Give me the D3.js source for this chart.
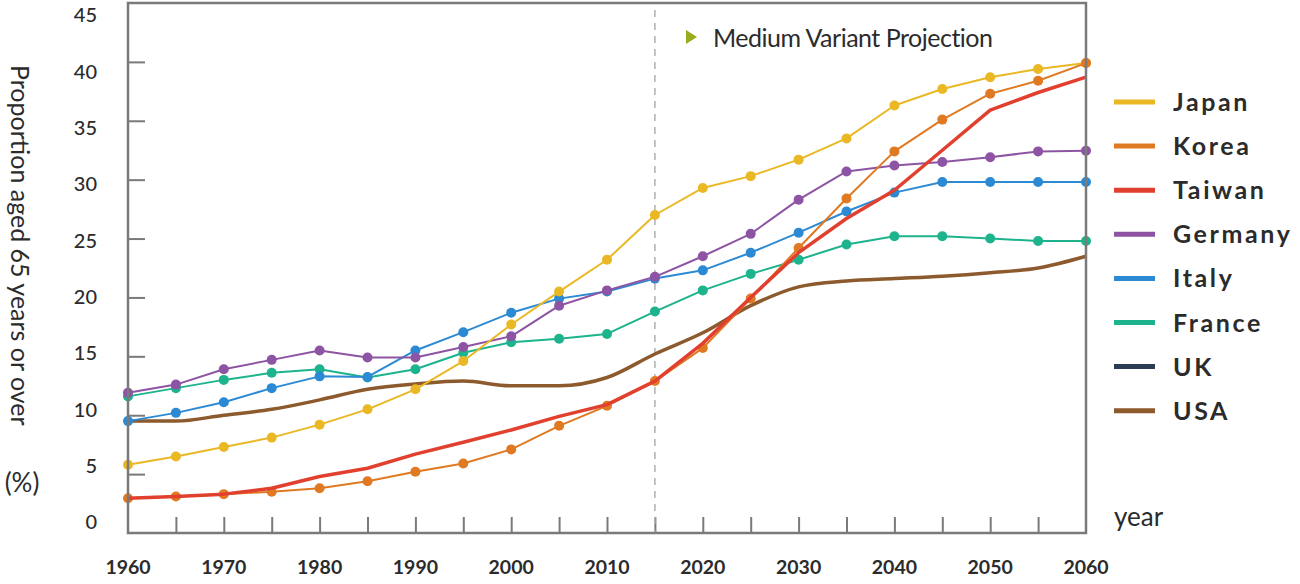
<!DOCTYPE html>
<html>
<head>
<meta charset="utf-8">
<script src="https://cdn.jsdelivr.net/npm/d3@7"></script>
<style>
  body { margin: 0; background: #fff; }
  text { font-family: Lato, "Noto Sans", sans-serif; fill: #2b2b2b; }
</style>
</head>
<body>
<div id="chart"></div>
<script>
(function() {
    var width = 1300, height = 584;

    // data, one value per 5 years 1960-2060
    var years = d3.range(1960, 2061, 5);
    var japan   = [5.8, 6.5, 7.3, 8.1, 9.2, 10.5, 12.2, 14.6, 17.7, 20.5, 23.2, 27.0, 29.3, 30.3, 31.7, 33.5, 36.3, 37.7, 38.7, 39.4, 39.9];
    var korea   = [2.95, 3.1, 3.3, 3.5, 3.8, 4.4, 5.2, 5.9, 7.1, 9.1, 10.8, 12.9, 15.7, 19.9, 24.2, 28.4, 32.4, 35.1, 37.3, 38.4, 39.9];
    var taiwan  = [2.95, 3.1, 3.3, 3.8, 4.8, 5.5, 6.7, 7.7, 8.75, 9.9, 10.9, 12.9, 16.1, 20.0, 23.8, 26.7, 29.1, 32.5, 35.9, 37.4, 38.7];
    var germany = [11.9, 12.6, 13.9, 14.7, 15.5, 14.9, 14.9, 15.8, 16.7, 19.3, 20.6, 21.75, 23.5, 25.4, 28.3, 30.7, 31.2, 31.5, 31.9, 32.4, 32.45];
    var italy   = [9.5, 10.2, 11.1, 12.3, 13.3, 13.25, 15.5, 17.05, 18.7, 19.9, 20.5, 21.6, 22.3, 23.8, 25.5, 27.3, 28.9, 29.8, 29.8, 29.8, 29.8];
    var france  = [11.6, 12.3, 13.0, 13.6, 13.9, 13.2, 13.9, 15.3, 16.2, 16.5, 16.9, 18.8, 20.6, 22.0, 23.2, 24.5, 25.2, 25.2, 25.0, 24.8, 24.8];
    var usa     = [9.5, 9.5, 10.0, 10.5, 11.3, 12.2, 12.65, 12.9, 12.5, 12.5, 13.2, 15.2, 17.0, 19.3, 20.9, 21.4, 21.6, 21.8, 22.1, 22.5, 23.5];

    var countries = ["Japan", "Korea", "Taiwan", "Germany", "Italy", "France", "UK", "USA"];
    var colors = ["#e9b824", "#e07a22", "#e2402f", "#8e54a4", "#2b8ad3", "#1db38d", "#2b3c55", "#8c5a2d"];
    var values = [japan, korea, taiwan, germany, italy, france, null, usa];
    var dotted = [true, true, false, true, true, true, false, false];

    var yTicks = d3.range(0, 46, 5);
    var xLabels = d3.range(1960, 2061, 10);
    var projectionYear = 2015;

    var svg = d3.select('#chart').append('svg')
        .attr('width', width)
        .attr('height', height);

    var x = d3.scaleLinear().domain([1960, 2060]).range([128, 1086]);
    var y = d3.scaleLinear().domain([0, 45]).range([533, 3]);
    // the tick labels sit on their own slightly tighter spacing
    var yLab = d3.scaleLinear().domain([0, 45]).range([522, 15]);

    // inner ticks
    svg.append('g')
        .attr('transform', 'translate(0,533)')
        .call(d3.axisBottom(x).tickValues(years.slice(1, -1)).tickSizeInner(-16).tickSizeOuter(0).tickFormat(''))
        .call(function(g) { g.select('.domain').remove(); })
        .selectAll('line').attr('stroke', '#7a7a7a').attr('stroke-width', 2);

    svg.append('g')
        .attr('transform', 'translate(128,0)')
        .call(d3.axisLeft(y).tickValues(yTicks.slice(1, -1)).tickSizeInner(-17).tickSizeOuter(0).tickFormat(''))
        .call(function(g) { g.select('.domain').remove(); })
        .selectAll('line').attr('stroke', '#7a7a7a').attr('stroke-width', 2);

    // labels
    svg.append('g')
        .selectAll('text')
        .data(yTicks)
        .enter().append('text')
        .attr('x', 97)
        .attr('y', function(d) { return yLab(d); })
        .attr('dy', '0.36em')
        .attr('text-anchor', 'end')
        .style('font-size', '20px')
        .style('font-weight', 500)
        .text(function(d) { return d; });

    svg.append('g')
        .selectAll('text')
        .data(xLabels)
        .enter().append('text')
        .attr('x', function(d) { return x(d); })
        .attr('y', 567)
        .attr('dy', '0.36em')
        .attr('text-anchor', 'middle')
        .style('font-size', '19.5px')
        .style('font-weight', 700)
        .text(function(d) { return d; });

    // projection line
    svg.append('line')
        .attr('x1', x(projectionYear)).attr('x2', x(projectionYear))
        .attr('y1', 10).attr('y2', 533)
        .attr('stroke', '#b0b0b0')
        .attr('stroke-width', 1.5)
        .attr('stroke-dasharray', '7,6');

    svg.append('path')
        .attr('d', 'M686,30 L697,37 L686,44 Z')
        .attr('fill', '#9aab1e');
    svg.append('text')
        .attr('x', 713).attr('y', 38)
        .attr('dy', '0.36em')
        .style('font-size', '25px')
        .style('letter-spacing', '-0.5px')
        .text('Medium Variant Projection');

    // series
    var line = d3.line()
        .x(function(d, i) { return x(years[i]); })
        .y(function(d) { return y(d); });
    var smooth = d3.line()
        .x(function(d, i) { return x(years[i]); })
        .y(function(d) { return y(d); })
        .curve(d3.curveMonotoneX);

    var order = [7, 5, 4, 3, 0, 1, 2];
    order.forEach(function(k) {
        var vals = values[k];
        svg.append('path')
            .datum(vals)
            .attr('fill', 'none')
            .attr('stroke', colors[k])
            .attr('stroke-width', dotted[k] ? 2 : 3.5)
            .attr('stroke-linejoin', 'round')
            .attr('d', k === 7 ? smooth : line);
        if (dotted[k]) {
            svg.append('g').selectAll('circle')
                .data(vals)
                .enter().append('circle')
                .attr('cx', function(d, i) { return x(years[i]); })
                .attr('cy', function(d) { return y(d); })
                .attr('r', 5)
                .attr('fill', colors[k]);
        }
    });

    // frame
    svg.append('path')
        .attr('d', 'M' + x(1960) + ',' + y(45) + ' H' + x(2060) + ' V' + y(0) + ' H' + x(1960) + ' Z')
        .attr('fill', 'none')
        .attr('stroke', '#7a7a7a')
        .attr('stroke-width', 2.5);

    // legend
    var legend = svg.append('g').selectAll('g')
        .data(countries)
        .enter().append('g')
        .attr('transform', function(d, i) { return 'translate(1114,' + (102 + i * 44.1) + ')'; });
    legend.append('line')
        .attr('x1', 0).attr('x2', 41)
        .attr('stroke', function(d, i) { return colors[i]; })
        .attr('stroke-width', 5);
    legend.append('text')
        .attr('x', 59)
        .attr('dy', '0.36em')
        .style('font-size', '25px')
        .style('font-weight', 700)
        .style('letter-spacing', '2.6px')
        .text(function(d) { return d; });

    // axis titles
    svg.append('text')
        .attr('transform', 'translate(20,65) rotate(90)')
        .attr('dy', '0.36em')
        .style('font-size', '25px')
        .text('Proportion aged 65 years or over');
    svg.append('text')
        .attr('x', 22).attr('y', 483)
        .attr('dy', '0.36em')
        .attr('text-anchor', 'middle')
        .style('font-size', '26px')
        .text('(%)');
    svg.append('text')
        .attr('x', 1114).attr('y', 517)
        .attr('dy', '0.36em')
        .style('font-size', '26px')
        .text('year');
})();
</script>
</body>
</html>
